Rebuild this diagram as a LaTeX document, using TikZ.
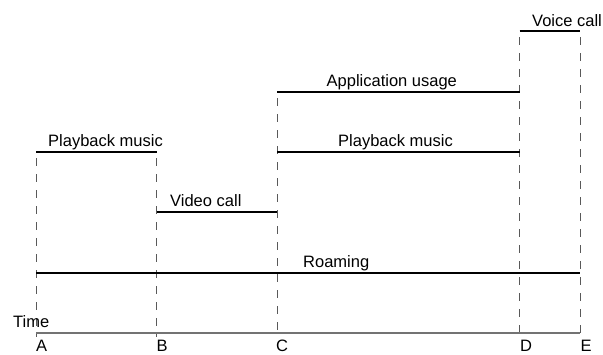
\documentclass[tikz,border=0pt]{standalone}
\usepackage{fontspec}
\setmainfont{Liberation Sans}
\begin{document}
\begin{tikzpicture}[x=1pt,y=-1pt,
  seg/.style={line width=2pt, black},
  axisline/.style={line width=1.3pt, black!55},
  guide/.style={line width=1pt, black!65, dash pattern=on 7.5pt off 8.5pt, dash phase=9.7pt},
  lbl/.style={anchor=base west, inner sep=0pt, font=\fontsize{16.5}{19}\selectfont}]
\useasboundingbox (0,0) rectangle (603,354);

% event times on the time axis
\coordinate (A) at (36,333);
\coordinate (B) at (156.5,333);
\coordinate (C) at (277,333);
\coordinate (D) at (519.5,333);
\coordinate (E) at (580,333);

% activity intervals
\coordinate (pm1s) at (36,152);    \coordinate (pm1e) at (156.5,152);
\coordinate (vcs)  at (156.5,212); \coordinate (vce)  at (277,212);
\coordinate (aus)  at (277,92);    \coordinate (aue)  at (519.5,92);
\coordinate (pm2s) at (277,152);   \coordinate (pm2e) at (519.5,152);
\coordinate (rms)  at (36,273);    \coordinate (rme)  at (580,273);
\coordinate (vos)  at (519.5,31);  \coordinate (voe)  at (580,31);

% guide lines down to the axis
\coordinate (Ab) at (36,337);
\coordinate (Bb) at (156.5,337);
\coordinate (Cb) at (277,337);
\coordinate (Db) at (519.5,337);
\coordinate (Eb) at (580,337);
\draw[guide] (pm1s) -- (Ab);
\draw[guide] (pm1e) -- (Bb);
\draw[guide] (aus) -- (Cb);
\draw[guide] (vos) -- (Db);
\draw[guide] (voe) -- (Eb);

% axis
\draw[axisline] (A) -- (E);

% intervals
\draw[seg] (pm1s) -- (pm1e);
\draw[seg] (vcs) -- (vce);
\draw[seg] (aus) -- (aue);
\draw[seg] (pm2s) -- (pm2e);
\draw[seg] (rms) -- (rme);
\draw[seg] (vos) -- (voe);

% interval labels
\node[lbl] (lpm1) at (48,146) {Playback music};
\node[lbl] (lvc)  at (170,206.5) {Video call};
\node[lbl] (lau)  at (326.5,86.7) {Application usage};
\node[lbl] (lpm2) at (338,146) {Playback music};
\node[lbl] (lrm)  at (303,267) {Roaming};
\node[lbl] (lvo)  at (532,26.5) {Voice call};

% axis labels
\node[lbl] (ltime) at (13,327) {Time};
\node[lbl] (lA) at (36,351.7) {A};
\node[lbl] (lB) at (156.5,351.7) {B};
\node[lbl] (lC) at (276,351.7) {C};
\node[lbl] (lD) at (520,351.7) {D};
\node[lbl] (lE) at (580.5,351.7) {E};
\end{tikzpicture}
\end{document}
